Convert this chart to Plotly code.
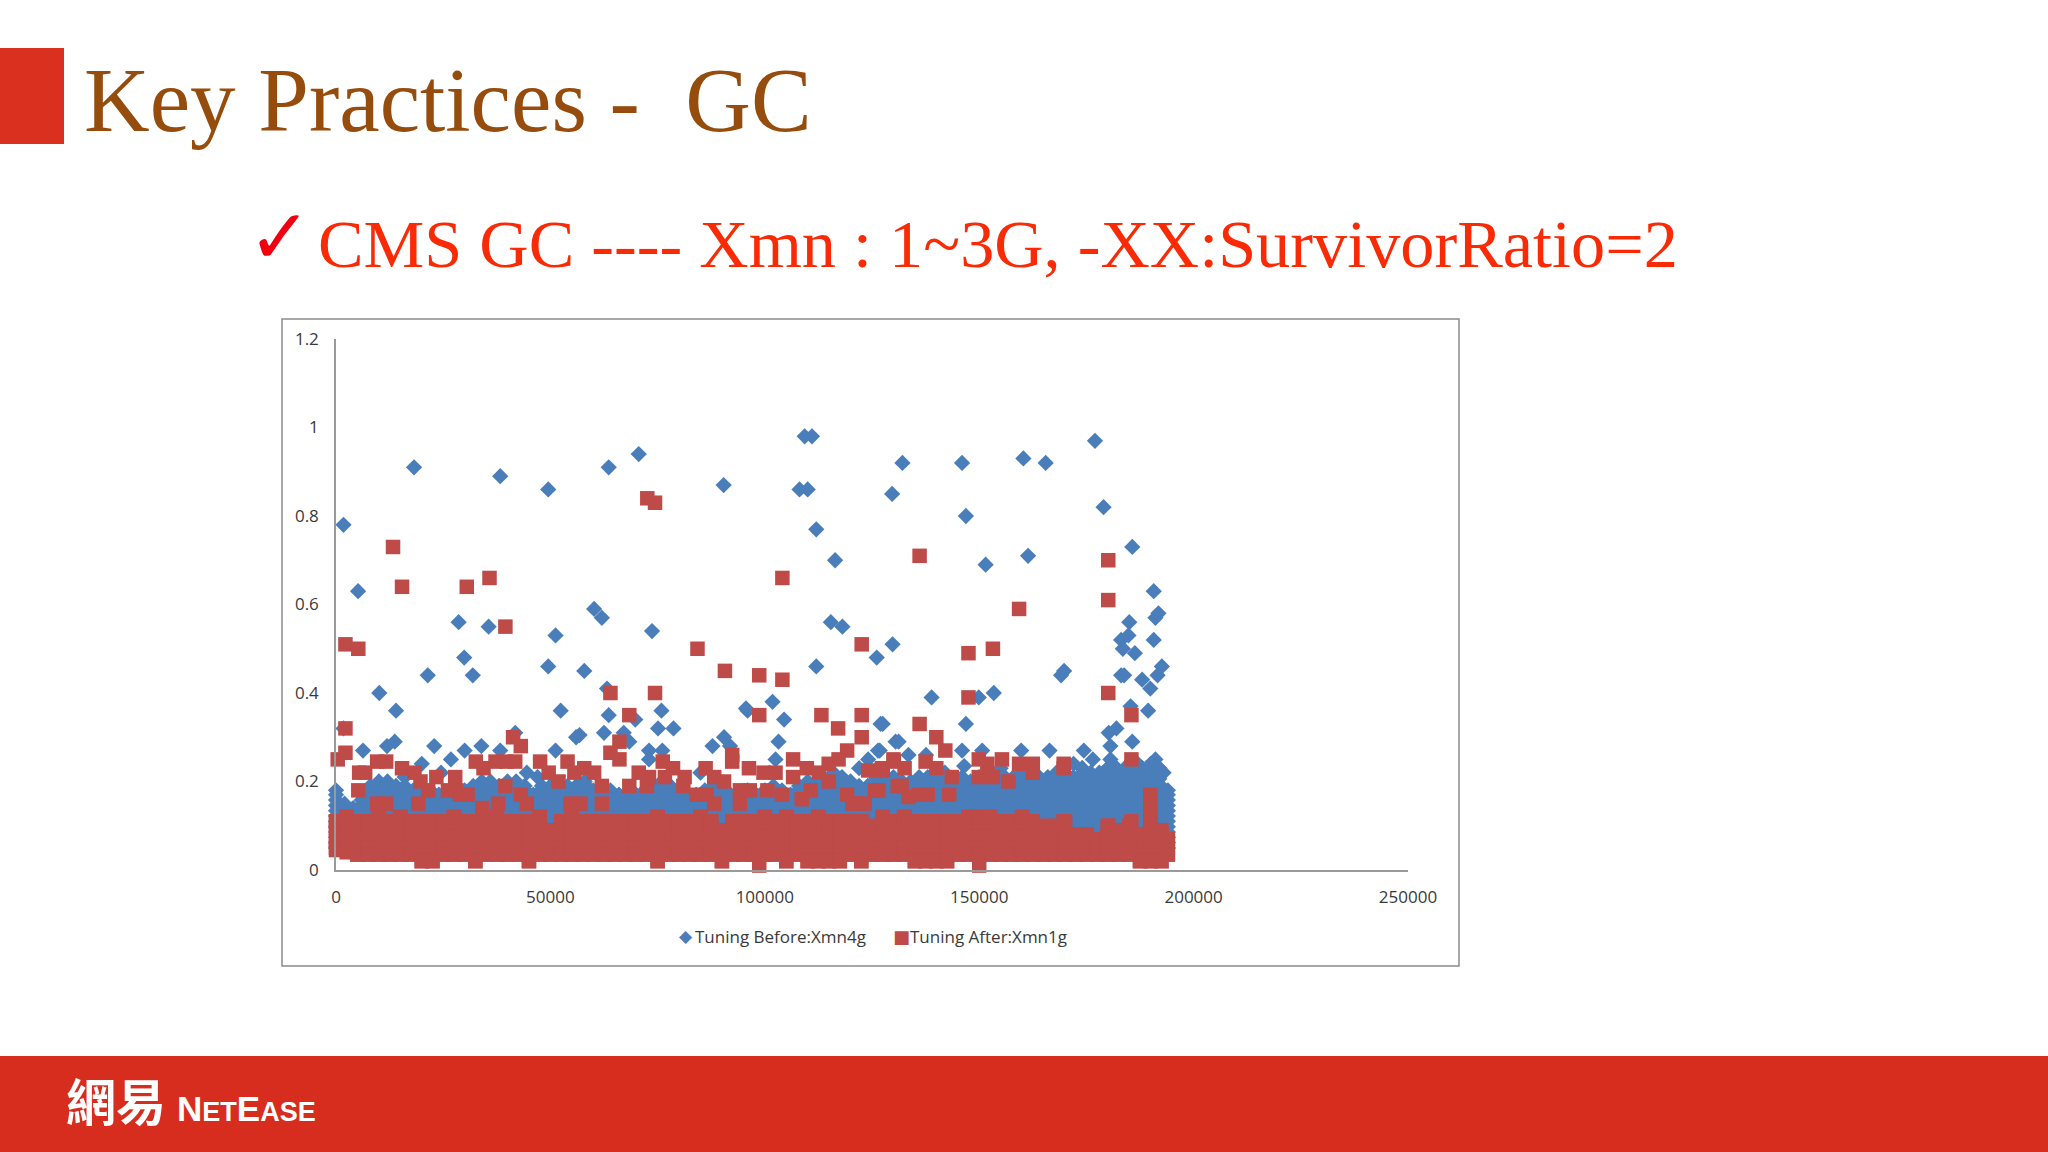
import plotly.graph_objects as go

W, H = 2048, 1152

# ---------- tick labels / legend / text ----------
x_ticks = [0, 50000, 100000, 150000, 200000, 250000]
x_tick_labels = ["0", "50000", "100000", "150000", "200000", "250000"]
y_ticks = [0, 0.2, 0.4, 0.6, 0.8, 1.0, 1.2]
y_tick_labels = ["0", "0.2", "0.4", "0.6", "0.8", "1", "1.2"]
series_names = ["Tuning Before:Xmn4g", "Tuning After:Xmn1g"]

# ---------- individually readable points: Tuning Before ----------
before_x = [1750,5150,18200,10100,38300,49500,63600,70600,90400,109300,111000,108100,110000,112000,116400,115400,118100,
            129700,132100,28600,35600,29900,21400,31900,14000,60200,62000,51200,49500,57900,73700,52400,63200,63600,75900,
            112000,129800,126100,101800,95600,96000,104500,127000,103200,90500,87800,78700,75100,69800,67100,68400,62500,
            56000,56800,41800,30000,22900,13700,11900,6300,33900,38300,26800,20000,51200,73000,73000,76100,91900,126400,
            130500,102500,124100,44500,1750,
            177000,146000,160300,165500,179000,146900,151500,161400,185700,190700,191800,191100,185000,183100,184800,183500,
            186300,190700,192600,169800,169100,183100,183800,188000,191600,189900,189400,185300,153400,149900,138900,146900,
            127500,131200,182000,180200,185700,180600,126800,146000,150700,159800,166400,174400,133500,137600,176500,180600,
            191100,146500,187000,189000,193000,172000,155000,142000,122000,85000,16000,24500,47000]
before_y = [.78,.63,.91,.40,.89,.86,.91,.94,.87,.98,.98,.86,.86,.77,.70,.56,.55,
            .85,.92,.56,.55,.48,.44,.44,.36,.59,.57,.53,.46,.45,.54,.36,.41,.35,.36,
            .46,.51,.48,.38,.365,.36,.34,.33,.29,.30,.28,.32,.32,.34,.31,.29,.31,
            .30,.305,.31,.27,.28,.29,.28,.27,.28,.27,.25,.24,.27,.27,.25,.27,.28,.27,
            .29,.25,.25,.22,.32,
            .97,.92,.93,.92,.82,.80,.69,.71,.73,.63,.58,.57,.56,.52,.53,.50,
            .49,.52,.46,.45,.44,.44,.44,.43,.44,.41,.36,.37,.40,.39,.39,.33,
            .33,.29,.32,.31,.29,.28,.27,.27,.27,.27,.27,.27,.26,.26,.25,.25,
            .25,.235,.24,.23,.22,.24,.23,.22,.23,.22,.21,.22,.21]

# ---------- individually readable points: Tuning After ----------
after_x = [400,2200,2200,2200,5200,13300,15400,30500,35800,39500,72600,74400,84300,90700,98700,104100,98700,64000,74400,68400,
           66100,64000,66100,104100,122600,113200,117100,122600,122600,119200,117200,114900,106600,41300,43100,
           5400,6800,9600,11700,15400,18300,19700,23400,21500,19200,5200,9600,11700,27800,26100,28000,28900,30700,32600,34400,
           37200,39700,41800,39500,37800,34100,43100,44500,47600,49600,51900,54000,55600,57900,60200,62000,62000,54700,57000,
           68400,70600,72500,73000,76200,78600,76700,81300,81000,84100,86400,86200,88200,90500,88200,92400,92400,96300,94200,
           96500,94200,99700,102500,100600,104000,106600,109800,112600,114900,110700,108600,119200,120400,124100,127300,130100,
           126500,131000,
           136100,180100,180100,159300,147500,153200,147500,180100,185500,136100,140000,142100,185500,130000,127500,132600,
           137500,140000,143600,149900,151900,149900,153200,155300,156800,159300,162500,162500,169700,169700,125700,131900,
           133500,136000,138000,143000,121300,123300,189900,189900,189900,189900,185500,180100,169700,150000,98700]
after_y = [.25,.265,.32,.51,.50,.73,.64,.64,.66,.55,.84,.83,.50,.45,.44,.43,.35,.40,.40,.35,
           .29,.265,.25,.66,.51,.35,.32,.35,.30,.27,.25,.24,.25,.30,.28,
           .22,.22,.245,.245,.23,.22,.20,.21,.18,.15,.18,.15,.15,.21,.18,.18,.17,.17,.245,.23,
           .245,.245,.245,.19,.15,.14,.17,.15,.245,.22,.20,.245,.22,.23,.22,.19,.15,.15,.15,
           .19,.22,.19,.21,.245,.23,.21,.21,.19,.17,.17,.23,.21,.20,.15,.26,.245,.23,.18,
           .18,.15,.22,.22,.18,.17,.21,.23,.22,.20,.18,.16,.17,.15,.225,.23,.245,
           .18,.19,
           .71,.70,.61,.59,.49,.50,.39,.40,.35,.33,.30,.27,.25,.25,.225,.23,
           .245,.23,.21,.25,.24,.21,.21,.25,.20,.24,.24,.22,.24,.23,.18,.19,
           .165,.17,.17,.17,.15,.15,.17,.15,.13,.11,.11,.10,.11,.01,.01]

# ---------- dense band of Tuning Before: column x, band top read per column ----------
before_band_x = [0,2000,4000,6000,8000,10000,12000,14000,16000,18000,20000,22000,24000,26000,28000,30000,32000,34000,36000,38000,
                 40000,42000,44000,46000,48000,50000,52000,54000,56000,58000,60000,62000,64000,66000,68000,70000,72000,74000,76000,78000,
                 80000,82000,84000,86000,88000,90000,92000,94000,96000,98000,100000,102000,104000,106000,108000,110000,112000,114000,116000,118000,
                 120000,122000,124000,126000,128000,130000,132000,134000,136000,138000,140000,142000,144000,146000,148000,150000,152000,154000,156000,158000,
                 160000,162000,164000,166000,168000,170000,172000,174000,176000,178000,180000,182000,184000,186000,188000,190000,192000,194000]
before_band_top = [.18,.15,.14,.17,.19,.20,.20,.19,.19,.18,.17,.18,.17,.16,.17,.18,.19,.20,.20,.19,
                   .20,.20,.19,.17,.19,.19,.18,.19,.19,.20,.18,.17,.18,.17,.16,.17,.18,.19,.20,.19,
                   .18,.17,.17,.18,.19,.18,.17,.17,.18,.17,.18,.19,.18,.17,.19,.20,.19,.20,.22,.21,
                   .20,.19,.19,.21,.20,.21,.20,.20,.21,.21,.20,.21,.20,.21,.20,.21,.21,.20,.21,.21,
                   .22,.21,.21,.21,.22,.22,.21,.23,.22,.22,.23,.23,.23,.24,.23,.24,.23,.18]

# ---------- dense band of Tuning After: column x, top and bottom read per column ----------
after_band_x = [0,2500,5000,7500,10000,12500,15000,17500,20000,22500,25000,27500,30000,32500,35000,37500,40000,42500,45000,47500,
                50000,52500,55000,57500,60000,62500,65000,67500,70000,72500,75000,77500,80000,82500,85000,87500,90000,92500,95000,97500,
                100000,102500,105000,107500,110000,112500,115000,117500,120000,122500,125000,127500,130000,132500,135000,137500,140000,142500,145000,147500,
                150000,152500,155000,157500,160000,162500,165000,167500,170000,172500,175000,177500,180000,182500,185000,187500,190000,192500,194000]
after_band_top = [.11,.12,.11,.11,.12,.11,.12,.11,.11,.11,.11,.12,.11,.11,.11,.12,.11,.11,.11,.12,
                  .09,.11,.12,.11,.11,.11,.11,.11,.11,.11,.12,.11,.11,.11,.12,.11,.09,.11,.11,.11,
                  .12,.11,.12,.11,.11,.12,.11,.11,.11,.11,.10,.12,.11,.12,.11,.11,.11,.11,.11,.12,
                  .12,.12,.11,.11,.12,.11,.10,.10,.11,.08,.08,.07,.10,.09,.10,.08,.11,.09,.07]
after_band_bottom = [.045,.04,.035,.035,.035,.035,.035,.035,.02,.02,.035,.035,.035,.02,.035,.035,.035,.035,.02,.035,
                     .035,.035,.035,.035,.035,.035,.035,.035,.035,.035,.02,.035,.035,.035,.035,.035,.02,.035,.035,.035,
                     .035,.035,.02,.035,.02,.02,.02,.02,.035,.02,.035,.035,.035,.035,.02,.02,.02,.02,.035,.035,
                     .035,.035,.035,.035,.035,.035,.035,.035,.035,.035,.035,.035,.035,.035,.035,.02,.02,.02,.035]

before_levels = [.05,.062,.074,.086,.098,.11,.122,.134,.146,.158,.17,.182,.194,.206,.218,.23]
after_levels = [.02,.035,.05,.065,.08,.095,.11,.12]

dense_bx, dense_by = [], []
for cx, top in zip(before_band_x, before_band_top):
    for lv in before_levels:
        if lv <= top:
            dense_bx.append(cx); dense_by.append(lv)
    dense_bx.append(cx); dense_by.append(top)

dense_ax, dense_ay = [], []
for cx, top, bot in zip(after_band_x, after_band_top, after_band_bottom):
    for lv in after_levels:
        if bot <= lv <= top:
            dense_ax.append(cx); dense_ay.append(lv)
    dense_ax.append(cx); dense_ay.append(top)
    dense_ax.append(cx); dense_ay.append(bot)

BLUE, RED = "#4A7EBB", "#BE4B48"
fig = go.Figure()
fig.add_trace(go.Scatter(x=before_x + dense_bx, y=before_y + dense_by, mode="markers", name=series_names[0],
                         marker=dict(symbol="diamond", size=12.5, color=BLUE, line=dict(width=0)), cliponaxis=False))
fig.add_trace(go.Scatter(x=after_x + dense_ax, y=after_y + dense_ay, mode="markers", name=series_names[1],
                         marker=dict(symbol="square", size=14.5, color=RED, line=dict(width=0)), cliponaxis=False))


def px(x): return x / W
def py(y): return 1 - y / H


shapes = [
    dict(type="rect", xref="paper", yref="paper", x0=px(282), x1=px(1459), y0=py(319), y1=py(966),
         line=dict(color="#8C8C8C", width=1.5), fillcolor="white", layer="below"),
    dict(type="rect", xref="paper", yref="paper", x0=0, x1=px(64), y0=py(48), y1=py(144),
         line=dict(width=0), fillcolor="#D9301F", layer="below"),
    dict(type="rect", xref="paper", yref="paper", x0=0, x1=1, y0=py(1056), y1=0,
         line=dict(width=0), fillcolor="#D72D1E", layer="below"),
]


def note(text, x, y, size, color, family, anchor="left"):
    return dict(text=text, x=px(x), y=py(y), xref="paper", yref="paper", xanchor=anchor, yanchor="middle",
                showarrow=False, font=dict(size=size, color=color, family=family))


SERIF = "Liberation Serif"
small_caps = ('<span style="font-size:35px">N</span>ET<span style="font-size:35px">E</span>ASE')
annotations = [
    note("Key Practices -  GC", 82, 100, 91, "#964C0C", SERIF),
    note("✓", 246, 236, 76, "#F00010", "DejaVu Sans"),
    note("CMS GC ---- Xmn : 1~3G, -XX:SurvivorRatio=2", 316, 244, 68.3, "#FA2A05", SERIF),
    note("◆", 677, 936, 17, BLUE, "DejaVu Sans"),
    note(series_names[0], 693, 936, 17, "#3A3A3A", "Open Sans"),
    note("■", 891, 936, 18, RED, "DejaVu Sans"),
    note(series_names[1], 908, 936, 17, "#3A3A3A", "Open Sans"),
    note("<b>網易</b>", 64, 1099, 50, "white", "Noto Sans CJK TC"),
    note("<b>" + small_caps + "</b>", 175, 1108, 27, "white", "Liberation Sans"),
]

AXIS = "#9A9A9A"
fig.update_layout(
    width=W, height=H, autosize=False, margin=dict(l=0, r=0, t=0, b=0, pad=0, autoexpand=False),
    paper_bgcolor="white", plot_bgcolor="rgba(0,0,0,0)", showlegend=False,
    shapes=shapes, annotations=annotations,
    xaxis=dict(domain=[px(336), px(1408)], range=[0, 250000], tickvals=x_ticks, ticktext=x_tick_labels,
               showgrid=False, zeroline=False, showline=True, linecolor=AXIS, linewidth=1.5, ticks="",
               automargin=False, ticklabelstandoff=11, tickfont=dict(size=17, color="#3A3A3A", family="Open Sans")),
    yaxis=dict(domain=[py(870), py(339)], range=[0, 1.2], tickvals=y_ticks, ticktext=y_tick_labels,
               showgrid=False, zeroline=False, showline=True, linecolor=AXIS, linewidth=1.5, ticks="",
               automargin=False, ticklabelstandoff=12, tickfont=dict(size=17, color="#3A3A3A", family="Open Sans")),
)

fig.write_html("out.html", config=dict(displayModeBar=False),
               post_script="document.body.style.margin='0';document.body.style.overflow='hidden';")
